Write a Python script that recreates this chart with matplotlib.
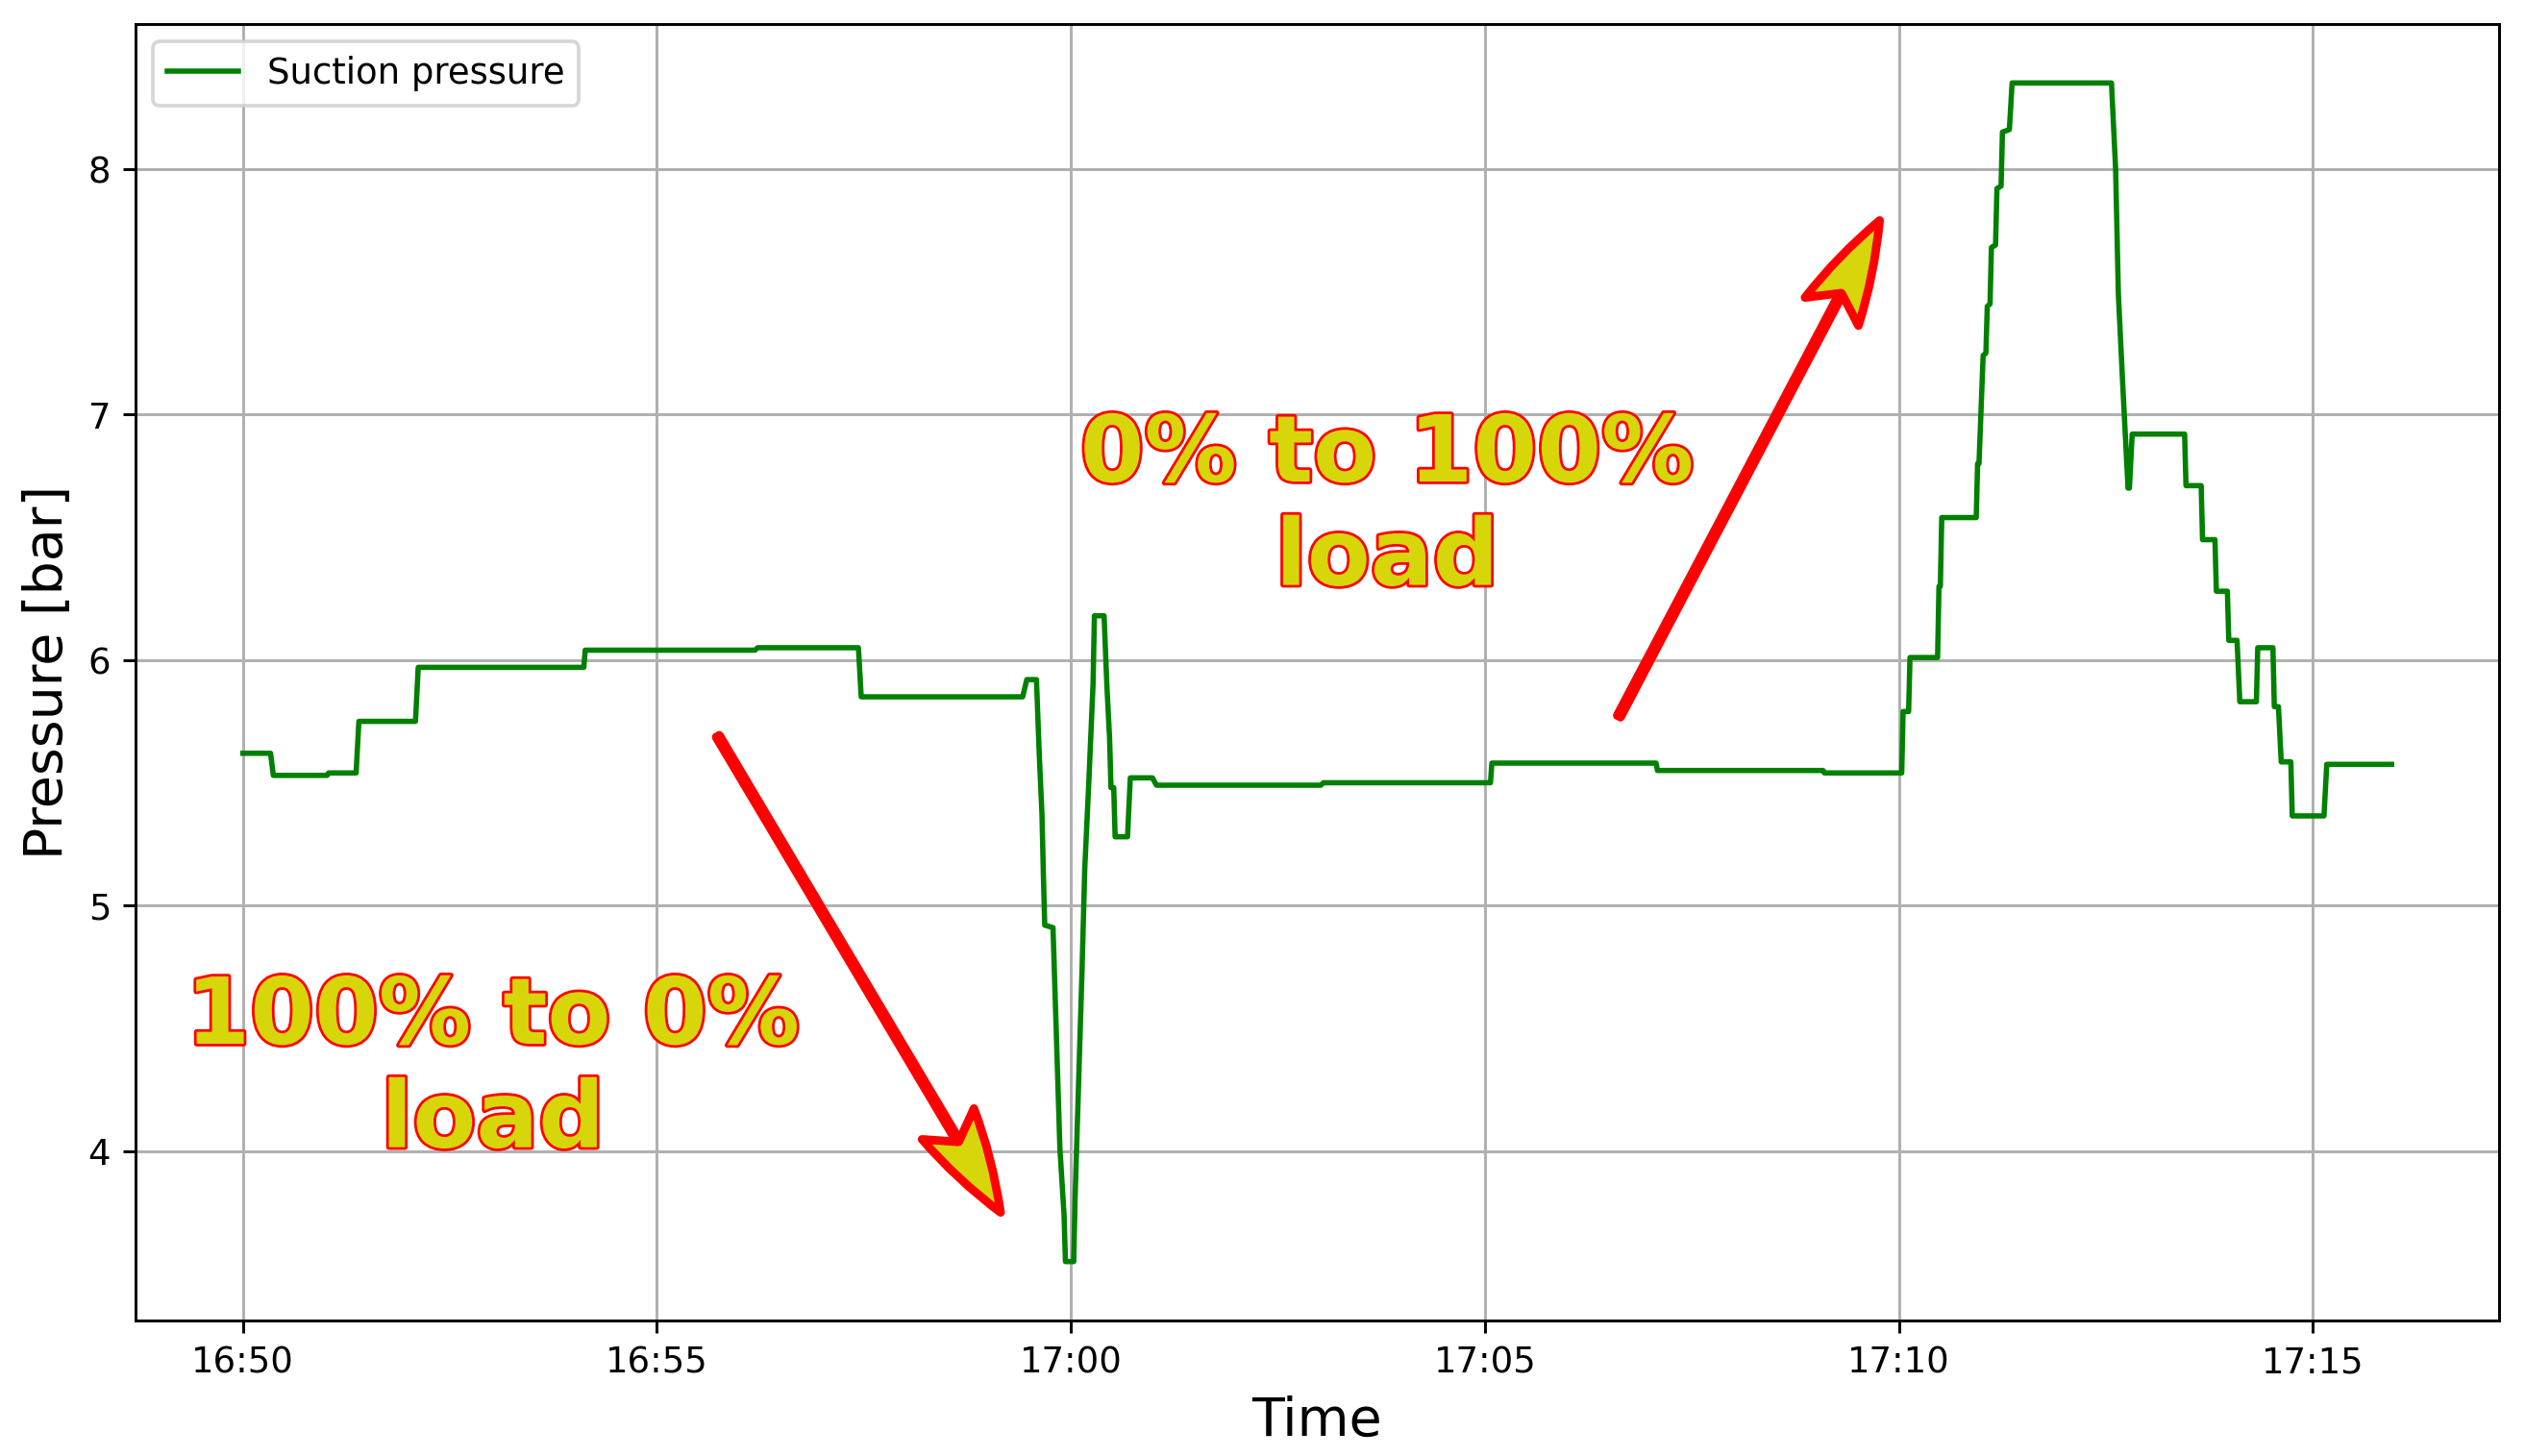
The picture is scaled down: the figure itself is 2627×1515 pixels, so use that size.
import matplotlib
matplotlib.use("Agg")
import matplotlib.pyplot as plt
import matplotlib.dates as mdates
import matplotlib.patheffects as pe
import pandas as pd

# suction pressure log (clock time, bar)
times = [
    "16:50:00", "16:50:20", "16:50:22", "16:51:01", "16:51:02", "16:51:22",
    "16:51:24", "16:52:05", "16:52:07", "16:54:07", "16:54:08", "16:56:11",
    "16:56:13", "16:57:26", "16:57:28", "16:59:25", "16:59:28", "16:59:35",
    "16:59:37", "16:59:39", "16:59:40", "16:59:41", "16:59:47", "16:59:52",
    "16:59:55", "16:59:56", "17:00:02", "17:00:03", "17:00:08", "17:00:10",
    "17:00:13", "17:00:16", "17:00:17", "17:00:24", "17:00:26", "17:00:28",
    "17:00:29", "17:00:31", "17:00:32", "17:00:41", "17:00:43", "17:00:59",
    "17:01:02", "17:03:01", "17:03:03", "17:05:04", "17:05:05", "17:07:04",
    "17:07:05", "17:09:05", "17:09:06", "17:10:02", "17:10:03", "17:10:07",
    "17:10:08", "17:10:28", "17:10:29", "17:10:30", "17:10:31", "17:10:56",
    "17:10:57", "17:10:58", "17:11:01", "17:11:03", "17:11:04", "17:11:06",
    "17:11:07", "17:11:10", "17:11:11", "17:11:14", "17:11:15", "17:11:20",
    "17:11:22", "17:12:34", "17:12:37", "17:12:39", "17:12:42", "17:12:46",
    "17:12:47", "17:12:49", "17:13:27", "17:13:28", "17:13:39", "17:13:40",
    "17:13:49", "17:13:50", "17:13:58", "17:13:59", "17:14:05", "17:14:07",
    "17:14:19", "17:14:20", "17:14:31", "17:14:32", "17:14:35", "17:14:37",
    "17:14:44", "17:14:45", "17:15:08", "17:15:10", "17:15:57",
]
pressure = [
    5.62, 5.62, 5.53, 5.53, 5.54, 5.54,
    5.75, 5.75, 5.97, 5.97, 6.04, 6.04,
    6.05, 6.05, 5.85, 5.85, 5.92, 5.92,
    5.62, 5.37, 5.13, 4.92, 4.91, 4.01,
    3.74, 3.55, 3.55, 3.81, 4.73, 5.15,
    5.51, 5.90, 6.18, 6.18, 5.90, 5.68,
    5.48, 5.48, 5.28, 5.28, 5.52, 5.52,
    5.49, 5.49, 5.50, 5.50, 5.58, 5.58,
    5.55, 5.55, 5.54, 5.54, 5.79, 5.79,
    6.01, 6.01, 6.30, 6.30, 6.58, 6.58,
    6.80, 6.80, 7.24, 7.25, 7.44, 7.45,
    7.68, 7.69, 7.92, 7.93, 8.15, 8.16,
    8.35, 8.35, 8.00, 7.49, 7.14, 6.70,
    6.70, 6.92, 6.92, 6.71, 6.71, 6.49,
    6.49, 6.28, 6.28, 6.08, 6.08, 5.83,
    5.83, 6.05, 6.05, 5.81, 5.81, 5.585,
    5.585, 5.365, 5.365, 5.575, 5.575,
]

# annotations: label, text centre, arrow tail, arrow tip
labels = ["100% to 0%\nload", "0% to 100%\nload"]
label_pos = [("16:53:01", 4.33), ("17:03:49", 6.62)]
arrow_tail = [("16:55:44", 5.69), ("17:06:37", 5.77)]
arrow_tip = [("16:59:09", 3.75), ("17:09:46", 7.79)]

day = "2023-01-01 "
t = pd.to_datetime([day + s for s in times])


def to_num(s):
    return mdates.date2num(pd.Timestamp(day + s))


dpi = 266
fig = plt.figure(figsize=(2627 / dpi, 1515 / dpi), dpi=dpi)
ax = fig.add_axes([141 / 2627, 1 - 1374 / 1515, (2600 - 141) / 2627, (1374 - 25) / 1515])

ax.plot(t, pressure, color="green", label="Suction pressure")
ax.grid(True)
ax.set_xlabel("Time", fontsize=15)
ax.set_ylabel("Pressure [bar]", fontsize=15)
ax.xaxis.set_major_locator(mdates.MinuteLocator(byminute=range(0, 60, 5)))
ax.xaxis.set_major_formatter(mdates.DateFormatter("%H:%M"))
ax.legend(loc="upper left")

yellow = "#d6d60a"
for lab, (ts, y) in zip(labels, label_pos):
    ax.text(to_num(ts), y, lab, ha="center", va="center", fontsize=26,
            fontweight="bold", color=yellow,
            path_effects=[pe.withStroke(linewidth=1.5, foreground="red")])

head_len = 29
for (ts0, y0), (ts1, y1) in zip(arrow_tail, arrow_tip):
    tail = (to_num(ts0), y0)
    tip = (to_num(ts1), y1)
    # red shaft, stopping inside the arrow head
    ax.annotate("", xy=tip, xytext=tail,
                arrowprops=dict(arrowstyle="-", color="red", lw=3.4,
                                shrinkA=0, shrinkB=head_len * 0.8,
                                capstyle="butt"))
    # notched yellow head with red outline
    ax.annotate("", xy=tip, xytext=tail,
                arrowprops=dict(arrowstyle=f"fancy,head_length={head_len},head_width=17,tail_width=1",
                                mutation_scale=1, fc=yellow, ec="red", lw=2.4,
                                shrinkA=0, shrinkB=0))

fig.savefig("out.png", dpi=dpi)
